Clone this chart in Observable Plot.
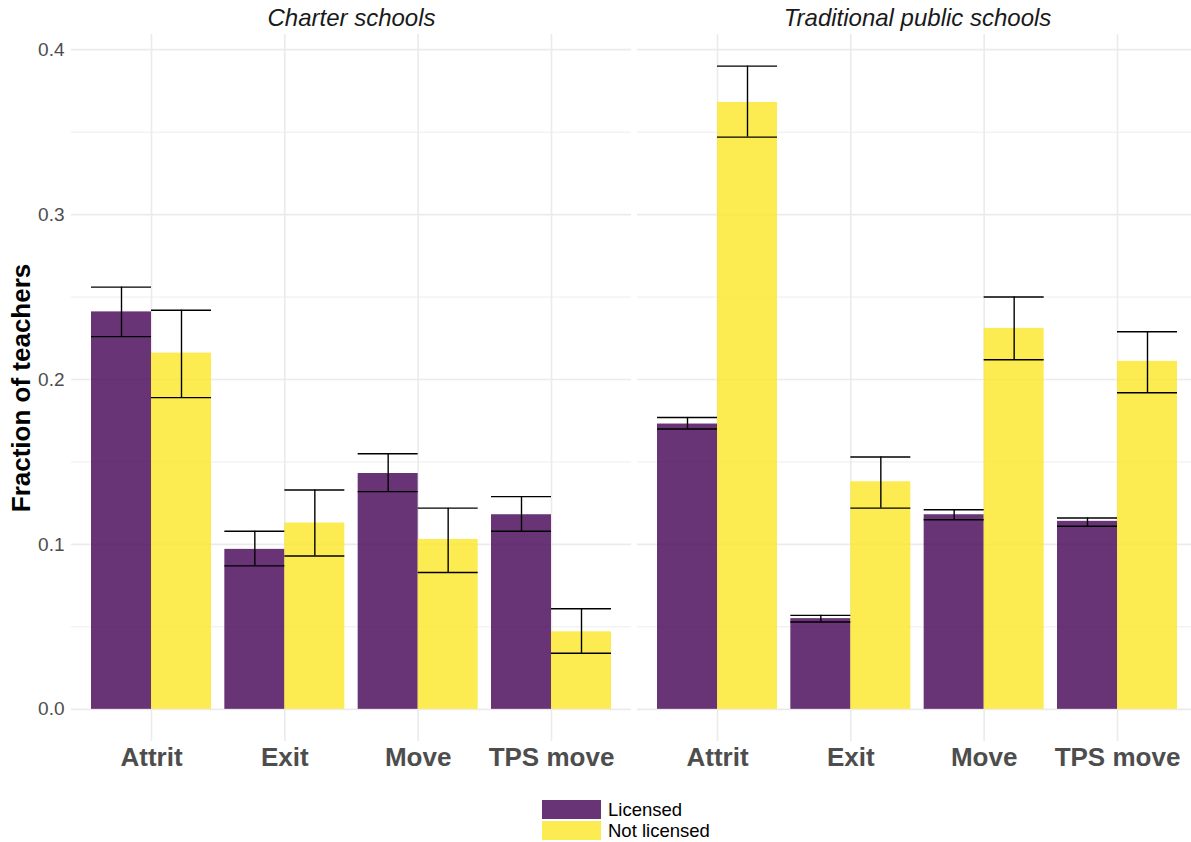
<!DOCTYPE html>
<html>
<head>
<meta charset="utf-8">
<script src="https://cdn.jsdelivr.net/npm/d3@7"></script>
<script src="https://cdn.jsdelivr.net/npm/@observablehq/plot@0.6"></script>
<style>
  html, body { margin: 0; padding: 0; background: #fff; }
  body { font-family: "Liberation Sans", Arial, sans-serif; width: 1191px; overflow: hidden; }
  #chart { width: 1191px; height: 790px; overflow: hidden; }
  #chart svg { max-width: none !important; }
  #legend { position: relative; margin-left: 542px; margin-top: 9px; }
  .row { display: flex; align-items: center; height: 21px; }
  .sw { width: 59px; height: 19px; margin-right: 7px; flex: none; }
  .lab { display: inline-block; font-size: 18.5px; color: #000; line-height: 21px; }
</style>
</head>
<body>
<div id="chart"></div>
<div id="legend"></div>
<script>
// Outcome categories, school types and licensing groups
const categories = ["Attrit", "Exit", "Move", "TPS move"];
const panels = ["Charter schools", "Traditional public schools"];
const licenses = ["Licensed", "Not licensed"];
const colors = ["#440154", "#FDE725"];

// Fractions of teachers with 95% interval bounds, by category
const charterLicensed   = [0.241, 0.097, 0.143, 0.118];
const charterLicensedLo = [0.226, 0.087, 0.132, 0.108];
const charterLicensedHi = [0.256, 0.108, 0.155, 0.129];

const charterNot   = [0.216, 0.113, 0.103, 0.047];
const charterNotLo = [0.189, 0.093, 0.083, 0.034];
const charterNotHi = [0.242, 0.133, 0.122, 0.061];

const tpsLicensed   = [0.173, 0.055, 0.118, 0.114];
const tpsLicensedLo = [0.170, 0.053, 0.115, 0.111];
const tpsLicensedHi = [0.177, 0.057, 0.121, 0.116];

const tpsNot   = [0.368, 0.138, 0.231, 0.211];
const tpsNotLo = [0.347, 0.122, 0.212, 0.192];
const tpsNotHi = [0.390, 0.153, 0.250, 0.229];

const yTicks = [0, 0.1, 0.2, 0.3, 0.4];
const yMinor = [0.05, 0.15, 0.25, 0.35];

// Long table for the marks
const series = [
  [panels[0], licenses[0], charterLicensed, charterLicensedLo, charterLicensedHi],
  [panels[0], licenses[1], charterNot, charterNotLo, charterNotHi],
  [panels[1], licenses[0], tpsLicensed, tpsLicensedLo, tpsLicensedHi],
  [panels[1], licenses[1], tpsNot, tpsNotLo, tpsNotHi]
];
const rows = [];
for (const [panel, license, v, lo, hi] of series) {
  categories.forEach((category, i) => {
    rows.push({panel, license, category, index: i + 1, value: v[i], lo: lo[i], hi: hi[i]});
  });
}

// Side-by-side dodge within each category (in category units)
const barW = 0.45;
const left = d => d.index + (d.license === licenses[0] ? -barW : 0);
const right = d => left(d) + barW;
const mid = d => left(d) + barW / 2;

const gridColor = "#ebebeb";

const chart = Plot.plot({
  width: 1197,
  height: 790,
  marginTop: 34,
  marginBottom: 49,
  marginLeft: 71,
  marginRight: 0,
  style: {fontFamily: "Liberation Sans, Arial, sans-serif", background: "#fff", overflow: "visible", maxWidth: "none"},
  fx: {domain: panels, paddingInner: 0.0107, paddingOuter: 0, axis: null},
  x: {type: "linear", domain: [0.4, 4.6], axis: null},
  y: {domain: [-0.0195, 0.4092], axis: null},
  color: {domain: licenses, range: colors},
  marks: [
    Plot.ruleY(yMinor, {stroke: gridColor, strokeWidth: 0.9}),
    Plot.ruleY(yTicks, {stroke: gridColor, strokeWidth: 1.6}),
    Plot.ruleX([1, 2, 3, 4], {stroke: gridColor, strokeWidth: 1.6}),
    Plot.rectY(rows, {
      fx: "panel", x1: left, x2: right, y1: 0, y2: "value",
      fill: "license", fillOpacity: 0.8
    }),
    // error bars: caps and stems
    Plot.ruleY(rows, {fx: "panel", y: "hi", x1: left, x2: right, stroke: "#000", strokeWidth: 1.4}),
    Plot.ruleY(rows, {fx: "panel", y: "lo", x1: left, x2: right, stroke: "#000", strokeWidth: 1.4}),
    Plot.ruleX(rows, {fx: "panel", x: mid, y1: "lo", y2: "hi", stroke: "#000", strokeWidth: 1.4}),
    Plot.axisX({
      ticks: [1, 2, 3, 4], tickFormat: i => categories[i - 1],
      tickSize: 0, tickPadding: 6, fontSize: 26, fontWeight: "bold",
      color: "#4d4d4d", label: null
    }),
    Plot.axisY({
      ticks: yTicks, tickFormat: d3.format(".1f"),
      tickSize: 0, tickPadding: 7, fontSize: 19,
      color: "#4d4d4d", label: null
    }),
    // panel titles
    Plot.text(panels, {
      fx: d => d, text: d => d, frameAnchor: "top", lineAnchor: "middle",
      dy: -16, fontSize: 24, fontStyle: "italic", fill: "#1a1a1a"
    }),
    // y-axis title on the first panel
    Plot.text(["Fraction of teachers"], {
      fx: () => panels[0], text: d => d, frameAnchor: "left", rotate: -90,
      textAnchor: "middle", lineAnchor: "middle", dx: -50,
      fontSize: 26, fontWeight: "bold", fill: "#000"
    })
  ]
});
document.getElementById("chart").appendChild(chart);

// Legend
const legend = document.getElementById("legend");
licenses.forEach((name, i) => {
  const row = document.createElement("div");
  row.className = "row";
  const sw = document.createElement("div");
  sw.className = "sw";
  sw.style.background = colors[i];
  sw.style.opacity = 0.8;
  const lab = document.createElement("span");
  lab.className = "lab";
  lab.textContent = name;
  row.appendChild(sw);
  row.appendChild(lab);
  legend.appendChild(row);
});
</script>
</body>
</html>
